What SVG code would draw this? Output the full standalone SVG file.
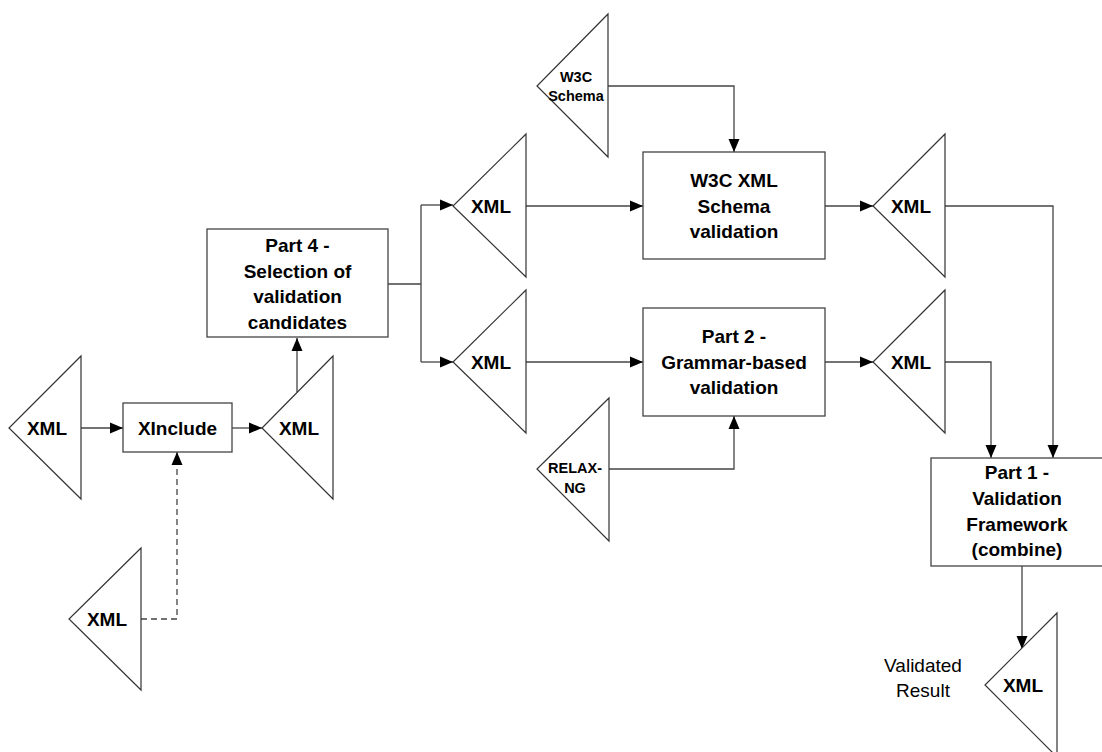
<svg xmlns="http://www.w3.org/2000/svg" width="1102" height="752" viewBox="0 0 1102 752">
<style>
.tri{fill:#fff;stroke:#333;stroke-width:1.2}
.box{fill:#fff;stroke:#444;stroke-width:1.3}
.t{font-family:"Liberation Sans",Arial,sans-serif;font-weight:bold;font-size:19px;fill:#000;text-anchor:middle}
.s{font-family:"Liberation Sans",Arial,sans-serif;font-weight:bold;font-size:14.5px;fill:#000;text-anchor:middle}
.r{font-family:"Liberation Sans",Arial,sans-serif;font-size:19px;fill:#000;text-anchor:middle}
.c{fill:none;stroke:#444;stroke-width:1.3}
.a{marker-end:url(#ah)}
.d{stroke-dasharray:6,4}
</style>
<defs>
<marker id="ah" markerUnits="userSpaceOnUse" markerWidth="14" markerHeight="14" refX="13" refY="6" orient="auto">
<path d="M0,0.5 L13,6 L0,11.5 z" fill="#000"/>
</marker>
</defs>
<rect width="1102" height="752" fill="#fff"/>
<g id="connectors">
<path class="c a" d="M81,428 H123"/>
<path class="c a" d="M232,428 H262"/>
<path class="c a" d="M297,392 V338"/>
<path class="c d a" d="M141,619 H177 V452"/>
<path class="c" d="M388,284 H421 M421,205 V362"/>
<path class="c a" d="M421,205 H453"/>
<path class="c a" d="M421,362 H453"/>
<path class="c a" d="M526,206 H643"/>
<path class="c a" d="M526,362 H643"/>
<path class="c a" d="M608,86 H734 V152"/>
<path class="c a" d="M609,469 H734 V416"/>
<path class="c a" d="M825,206 H873"/>
<path class="c a" d="M825,362 H873"/>
<path class="c a" d="M945,206 H1053 V458"/>
<path class="c a" d="M945,362 H991 V458"/>
<path class="c a" d="M1022,566 V649"/>
</g>
<g id="xml-in">
<polygon class="tri" points="81,356 9,428 81,499"/>
<text class="t" x="47" y="435">XML</text>
</g>
<g id="xml-include-src">
<polygon class="tri" points="141,548 69,619 141,690"/>
<text class="t" x="107" y="626">XML</text>
</g>
<g id="xinclude">
<rect class="box" x="123" y="403" width="109" height="49"/>
<text class="t" x="177.5" y="435">XInclude</text>
</g>
<g id="xml-included">
<polygon class="tri" points="333,356 262,428 333,499"/>
<text class="t" x="299" y="435">XML</text>
</g>
<g id="part4">
<rect class="box" x="207" y="229" width="181" height="108"/>
<text class="t" x="297.5" y="252">Part 4 -</text>
<text class="t" x="297.5" y="278">Selection of</text>
<text class="t" x="297.5" y="303">validation</text>
<text class="t" x="297.5" y="329">candidates</text>
</g>
<g id="xml-a">
<polygon class="tri" points="526,134 453,206 526,277"/>
<text class="t" x="491" y="213">XML</text>
</g>
<g id="xml-b">
<polygon class="tri" points="526,290 453,362 526,433"/>
<text class="t" x="491" y="369">XML</text>
</g>
<g id="w3c-schema">
<polygon class="tri" points="608,14 537,86 608,157"/>
<text class="s" x="576" y="82">W3C</text>
<text class="s" x="576" y="101">Schema</text>
</g>
<g id="relax-ng">
<polygon class="tri" points="609,398 537,469 609,541"/>
<text class="s" x="575" y="473">RELAX-</text>
<text class="s" x="575" y="493">NG</text>
</g>
<g id="w3c-validation">
<rect class="box" x="643" y="152" width="182" height="107"/>
<text class="t" x="734" y="187">W3C XML</text>
<text class="t" x="734" y="213">Schema</text>
<text class="t" x="734" y="238">validation</text>
</g>
<g id="part2">
<rect class="box" x="643" y="308" width="182" height="108"/>
<text class="t" x="734" y="343">Part 2 -</text>
<text class="t" x="734" y="369">Grammar-based</text>
<text class="t" x="734" y="394">validation</text>
</g>
<g id="xml-c">
<polygon class="tri" points="945,134 873,206 945,277"/>
<text class="t" x="911" y="213">XML</text>
</g>
<g id="xml-d">
<polygon class="tri" points="945,290 873,362 945,433"/>
<text class="t" x="911" y="369">XML</text>
</g>
<g id="part1">
<rect class="box" x="931" y="458" width="174" height="108"/>
<text class="t" x="1017" y="479">Part 1 -</text>
<text class="t" x="1017" y="505">Validation</text>
<text class="t" x="1017" y="531">Framework</text>
<text class="t" x="1017" y="556">(combine)</text>
</g>
<g id="xml-result">
<polygon class="tri" points="1057,613 985,685 1057,757"/>
<text class="t" x="1023" y="692">XML</text>
<text class="r" x="923" y="672">Validated</text>
<text class="r" x="923" y="697">Result</text>
</g>
</svg>
